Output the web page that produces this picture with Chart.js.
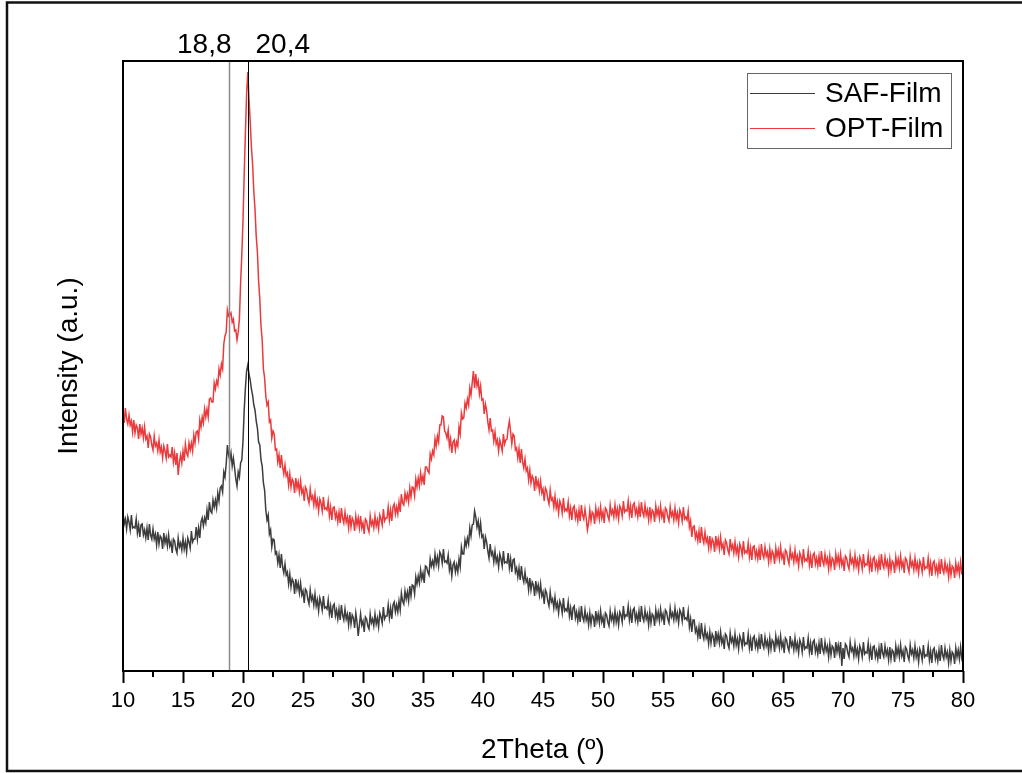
<!DOCTYPE html>
<html>
<head>
<meta charset="utf-8">
<script src="https://cdn.jsdelivr.net/npm/chart.js@4.4.1/dist/chart.umd.min.js"></script>
<style>
  html, body { margin: 0; padding: 0; background: #fff; }
  canvas { display: block; }
</style>
</head>
<body>
<canvas id="xrd" width="1022" height="773"></canvas>
<script>
// 2Theta grid, 10 to 80 deg every 0.1
const twoTheta = []
for (let i = 0; i <= 700; i++) twoTheta.push(Math.round((10 + i * 0.1) * 10) / 10)

const seriesNames = ['SAF-Film', 'OPT-Film']
const seriesColors = ['#3d3d3d', '#ea3a3c']

// intensities (a.u.), one row = 1 deg
const saf = [
  159,147,152,142,154,149,141,156,143,144,
  143,152,138,146,134,146,147,136,141,133,
  143,131,147,136,132,142,132,137,126,139,
  127,135,133,122,138,128,134,125,136,125,
  129,118,132,130,122,118,133,124,128,121,
  133,122,129,119,133,129,123,140,129,132,
  132,144,132,143,133,149,153,145,153,148,
  161,151,169,160,158,171,164,171,163,178,
  170,183,185,179,199,194,207,226,216,211,
  218,205,213,203,192,185,199,194,208,211,
  230,261,283,300,306,297,291,282,276,266,
  261,250,243,229,226,211,205,188,181,161,
  151,156,137,141,124,132,131,117,119,108,
  116,103,117,104,98,107,96,99,87,97,
  84,92,89,77,92,82,88,78,88,76,
  80,68,82,80,72,67,81,71,75,66,
  77,65,71,60,73,68,61,75,63,64,
  62,71,57,65,53,65,67,55,61,52,
  62,51,66,56,51,62,52,57,46,59,
  47,56,53,43,58,49,35,46,57,46,
  50,39,54,52,45,42,57,48,52,45,
  57,47,53,44,58,54,48,64,52,55,
  55,66,53,63,52,66,69,59,66,59,
  70,61,78,70,67,80,72,79,70,85,
  75,86,85,77,94,87,95,88,101,92,
  98,88,105,104,99,96,112,105,110,104,
  117,107,114,105,119,116,108,122,109,110,
  108,116,101,108,95,106,109,99,106,99,
  112,104,124,117,117,131,125,133,127,143,
  135,146,147,160,154,144,150,138,148,134,
  136,122,134,129,120,113,127,116,119,109,
  120,109,114,104,117,112,105,120,108,109,
  108,118,103,112,99,111,112,99,103,94,
  103,91,105,94,89,99,89,92,81,93,
  81,89,86,75,90,80,86,76,87,75,
  79,67,81,78,70,65,79,69,72,63,
  74,63,68,58,70,66,58,73,60,62,
  60,69,55,63,51,63,65,53,59,50,
  60,49,65,54,50,61,51,56,46,58,
  47,56,54,44,60,50,57,48,60,49,
  54,43,58,56,49,45,60,51,56,48,
  60,49,56,46,59,56,49,65,53,56,
  55,65,51,60,48,61,63,51,57,49,
  60,49,65,54,50,61,52,57,46,59,
  48,57,55,45,61,52,59,50,62,52,
  57,46,61,59,52,48,63,54,58,51,
  63,52,58,48,61,58,50,64,52,53,
  51,60,44,52,39,51,51,39,43,34,
  44,32,48,37,32,43,33,37,27,39,
  28,37,34,24,40,30,37,28,39,28,
  33,22,37,35,27,23,38,29,33,25,
  37,26,32,22,35,31,24,39,26,28,
  27,37,23,32,20,33,35,24,30,22,
  33,22,37,27,23,34,25,30,20,33,
  22,31,29,19,35,26,32,23,35,24,
  29,18,33,31,24,20,35,25,29,21,
  33,22,28,18,31,27,19,34,22,24,
  23,33,19,28,16,29,31,19,25,17,
  28,17,33,22,18,29,20,25,14,27,
  16,25,23,13,29,19,26,17,29,5,
  23,12,27,25,18,14,29,20,23,15,
  27,16,22,12,25,21,14,29,17,19,
  18,28,14,23,11,24,25,14,20,12,
  23,12,28,18,14,25,16,21,11,24,
  12,21,19,9,25,16,23,14,26,15,
  20,9,24,22,15,11,26,17,21,13,
  25,14,20,9,22,18,11,26,14,16,
  15,25,11,20,8,21,23,12,18,10,
  21,10,26,16,12,23,14,19,8,21,
  10,19,17,7,23,14,21,12,24,13,
  18
]

const opt = [
  260,248,263,252,247,256,246,250,239,251,
  238,246,243,232,247,237,243,233,244,232,
  235,223,237,234,226,221,235,225,228,220,
  231,219,224,213,225,220,213,227,214,216,
  214,224,209,218,206,218,196,209,216,208,
  220,210,227,218,215,228,221,228,220,236,
  228,239,240,232,251,244,254,248,262,254,
  262,254,272,273,269,269,288,282,290,286,
  302,296,307,302,327,335,339,361,355,356,
  358,349,352,340,341,331,339,352,388,416,
  450,497,538,577,599,572,550,524,507,480,
  462,435,419,390,372,345,331,302,293,275,
  266,269,249,251,233,240,237,221,222,209,
  216,203,216,204,197,206,195,198,186,197,
  184,192,189,178,193,183,189,179,190,178,
  182,170,184,181,173,168,182,172,175,166,
  177,165,171,160,172,168,160,174,162,163,
  161,170,155,164,151,163,164,153,158,149,
  159,148,163,153,148,159,149,154,143,156,
  144,153,150,140,155,146,153,143,155,143,
  148,137,152,150,143,139,155,146,150,143,
  155,145,151,142,156,152,146,162,150,153,
  153,164,151,161,150,164,167,157,164,157,
  169,159,177,168,166,178,171,177,169,183,
  174,184,183,175,192,184,193,185,198,189,
  195,186,204,204,200,198,217,212,220,216,
  232,225,235,229,246,246,255,254,240,238,
  233,241,225,232,218,229,231,221,229,225,
  244,237,258,252,253,268,263,272,266,283,
  276,288,300,283,297,285,290,277,285,271,
  272,257,267,261,249,241,253,240,241,230,
  239,227,231,220,231,226,220,237,227,231,
  232,243,250,239,227,237,235,221,223,213,
  222,208,222,209,203,212,200,203,191,201,
  188,195,192,180,195,185,190,180,190,178,
  182,170,183,180,172,167,181,171,173,164,
  175,163,169,158,170,166,158,173,160,162,
  160,169,155,163,151,163,165,153,159,150,
  161,150,166,156,152,162,153,141,148,161,
  150,159,157,147,163,154,161,152,164,153,
  159,148,163,161,155,151,166,157,161,154,
  166,155,162,152,165,162,155,170,159,161,
  160,170,156,165,153,166,168,157,162,154,
  165,154,169,159,155,166,156,161,151,164,
  152,161,159,149,165,156,162,153,165,154,
  159,148,163,161,154,150,164,155,159,151,
  163,152,158,148,161,157,150,164,152,154,
  151,160,144,150,134,144,145,133,138,130,
  140,128,144,133,128,139,129,133,123,135,
  123,132,129,119,135,125,132,122,134,123,
  127,116,131,128,121,117,132,122,126,118,
  129,118,124,114,127,123,116,130,118,120,
  118,128,114,123,111,124,125,114,120,112,
  122,111,127,117,113,124,115,119,109,122,
  111,120,117,107,123,114,121,112,124,113,
  117,106,121,119,112,107,122,113,117,109,
  121,110,115,105,118,114,107,122,110,112,
  110,120,106,115,103,116,118,107,113,105,
  115,104,120,110,106,117,108,113,102,115,
  104,113,111,101,117,108,115,106,117,106,
  111,100,115,113,106,102,117,108,112,104,
  116,105,111,101,114,110,102,117,105,107,
  106,116,102,111,99,112,114,103,109,101,
  112,101,117,107,103,114,105,110,99,112,
  101,110,108,98,114,105,112,103,115,104,
  109,98,113,111,104,99,114,105,109,101,
  113,102,108,98,110,106,99,114,102,104,
  103,113,99,108,95,108,110,99,105,97,
  108,97,112,102,98,109,100,105,94,107,
  96,105,103,93,108,99,106,97,109,98,
  100
]

const xTickLabels = [10, 15, 20, 25, 30, 35, 40, 45, 50, 55, 60, 65, 70, 75, 80]
const peakPositions = [18.8, 20.4]
const peakLabels = ['18,8', '20,4']

const FONT = "'Liberation Sans', Arial, sans-serif"

const extras = {
  id: 'extras',
  beforeDraw(chart) {
    const ctx = chart.ctx
    ctx.save()
    ctx.strokeStyle = '#111'
    ctx.lineWidth = 2.5
    ctx.beginPath()
    ctx.moveTo(1022, 2.5); ctx.lineTo(7, 2.5); ctx.lineTo(7, 771); ctx.lineTo(1022, 771)
    ctx.stroke()
    ctx.restore()
  },
  afterDatasetsDraw(chart) {
    const {ctx, chartArea: a, scales: {x}} = chart
    ctx.save()
    // peak markers
    peakPositions.forEach((p, i) => {
      const px = Math.round(x.getPixelForValue(p)) + 0.5
      ctx.strokeStyle = i === 0 ? '#8a8a8a' : '#000'
      ctx.lineWidth = i === 0 ? 1.5 : 1
      ctx.beginPath(); ctx.moveTo(px, a.top); ctx.lineTo(px, a.bottom); ctx.stroke()
      ctx.fillStyle = '#000'
      ctx.font = '28px ' + FONT
      ctx.textBaseline = 'alphabetic'
      ctx.textAlign = i === 0 ? 'right' : 'left'
      ctx.fillText(peakLabels[i], i === 0 ? px + 2 : px + 7, a.top - 8)
    })
    // frame
    ctx.strokeStyle = '#000'
    ctx.lineWidth = 2
    ctx.strokeRect(a.left, a.top, a.right - a.left, a.bottom - a.top)
    // minor ticks
    x.ticks.forEach(t => {
      if (t.value % 5 === 0) return
      const px = x.getPixelForValue(t.value)
      ctx.beginPath(); ctx.moveTo(px, a.bottom); ctx.lineTo(px, a.bottom + 6); ctx.stroke()
    })
    // legend
    ctx.strokeStyle = '#666'
    ctx.lineWidth = 1
    ctx.strokeRect(747.5, 73.5, 204, 75)
    ctx.font = '28px ' + FONT
    ctx.textAlign = 'left'
    ctx.textBaseline = 'middle'
    seriesNames.forEach((n, i) => {
      const y = 93 + i * 35
      ctx.strokeStyle = seriesColors[i]
      ctx.lineWidth = 1.2
      ctx.beginPath(); ctx.moveTo(750, y + 0.5); ctx.lineTo(815, y + 0.5); ctx.stroke()
      ctx.fillStyle = '#000'
      ctx.fillText(n, 825, y + 1)
    })
    ctx.restore()
  }
}

new Chart(document.getElementById('xrd'), {
  type: 'line',
  data: {
    datasets: [saf, opt].map((s, i) => ({
      label: seriesNames[i],
      data: twoTheta.map((t, j) => ({x: t, y: s[j]})),
      borderColor: seriesColors[i],
      borderWidth: 1.5,
      pointRadius: 0,
      tension: 0
    }))
  },
  options: {
    responsive: false,
    animation: false,
    layout: { padding: { top: 61, right: 59, bottom: 0, left: 0 } },
    plugins: { legend: { display: false }, tooltip: { enabled: false } },
    scales: {
      x: {
        type: 'linear',
        min: 10,
        max: 80,
        afterFit: s => { s.height = 102 },
        border: { display: false },
        grid: {
          drawOnChartArea: false,
          tickLength: 12,
          tickWidth: 2,
          tickColor: c => (c.tick && c.tick.value % 5 === 0) ? '#000' : 'rgba(0,0,0,0)'
        },
        ticks: {
          stepSize: 2.5,
          autoSkip: false,
          maxRotation: 0,
          padding: 5,
          color: '#000',
          font: { family: FONT, size: 22 },
          callback: v => xTickLabels.includes(v) ? v : ''
        },
        title: {
          display: true,
          text: '2Theta (º)',
          color: '#000',
          font: { family: FONT, size: 28 },
          padding: { top: 0, bottom: 6 }
        }
      },
      y: {
        min: 0,
        max: 610,
        afterFit: s => { s.width = 123 },
        border: { display: false },
        grid: { display: false },
        ticks: { display: false },
        title: {
          display: true,
          text: 'Intensity (a.u.)',
          color: '#000',
          font: { family: FONT, size: 28 },
          padding: { top: 52, bottom: 0 }
        }
      }
    }
  },
  plugins: [extras]
})
</script>
</body>
</html>
